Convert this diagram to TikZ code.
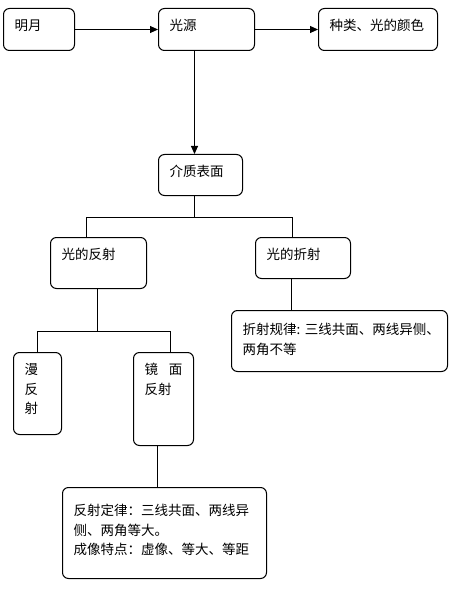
\documentclass[tikz,border=0pt]{standalone}
\usepackage{fontspec}
\newfontfamily\cjk{Noto Sans CJK SC}
\usetikzlibrary{arrows.meta}

\begin{document}
\begin{tikzpicture}[x=1pt, y=-1pt,
        box/.style 2 args={
            draw, line width=1pt, rounded corners=6pt, anchor=north west,
            align=left, inner xsep=11pt, inner ysep=0pt,
            minimum width=#1, minimum height=#2, text width=#1-22pt,
            text height=22pt, text depth=#2-22pt,
            font=\cjk\fontsize{13.5}{19.5}\selectfont
        },
        flow/.style={-{Triangle[length=8pt,width=7pt]}, line width=1pt},
        link/.style={line width=1pt}
    ]
        \useasboundingbox (0,0) rectangle (450,596);
        \node[box={71pt}{42pt}] (mingyue) at (3,8) {明月};
        \node[box={96pt}{42pt}] (guangyuan) at (158,8) {光源};
        \node[box={119pt}{42pt}] (zhonglei) at (318,8) {种类、光的颜色};
        \node[box={84pt}{41pt}] (jiezhi) at (158,154) {介质表面};
        \node[box={96pt}{51pt}] (fanshe) at (50,237) {光的反射};
        \node[box={95pt}{41pt}] (zheshe) at (255,237) {光的折射};
        \node[box={48pt}{82pt}] (man) at (13,352) {漫\\反\\射};
        \node[box={60pt}{93pt}] (jing) at (133,352) {\mbox{镜\hspace{0.8em}面}\\反射};
        \node[box={216pt}{61pt}, text height=24pt, text depth=37pt] (guilv) at (231,310)
            {折射规律:~三线共面、两线异侧、\\两角不等};
        \node[box={204pt}{91pt}, text height=28pt, text depth=63pt] (chengxiang) at (62,487)
            {反射定律：三线共面、两线异\\侧、两角等大。\\成像特点：虚像、等大、等距};
        \draw[flow] (mingyue) -- (guangyuan);
        \draw[flow] (guangyuan) -- (zhonglei);
        \draw[flow] ([xshift=-12pt]guangyuan.south) -- ([xshift=-12pt]guangyuan.south |- jiezhi.north);
        \draw[link] ([xshift=-6pt]jiezhi.south) -- ++(0,21) coordinate (split) -| ([xshift=-12pt]fanshe.north);
        \draw[link] (split) -| ([xshift=-10.5pt]zheshe.north);
        \draw[link] ([xshift=-1pt]fanshe.south) -- ++(0,42) coordinate (split2) -| (man.north);
        \draw[link] (split2) -| ([xshift=7pt]jing.north);
        \draw[link] ([xshift=-11.5pt]zheshe.south) -- ([xshift=-11.5pt]zheshe.south |- guilv.north);
        \draw[link] ([xshift=-6pt]jing.south) -- ([xshift=-6pt]jing.south |- chengxiang.north);
    \end{tikzpicture}
\end{document}
